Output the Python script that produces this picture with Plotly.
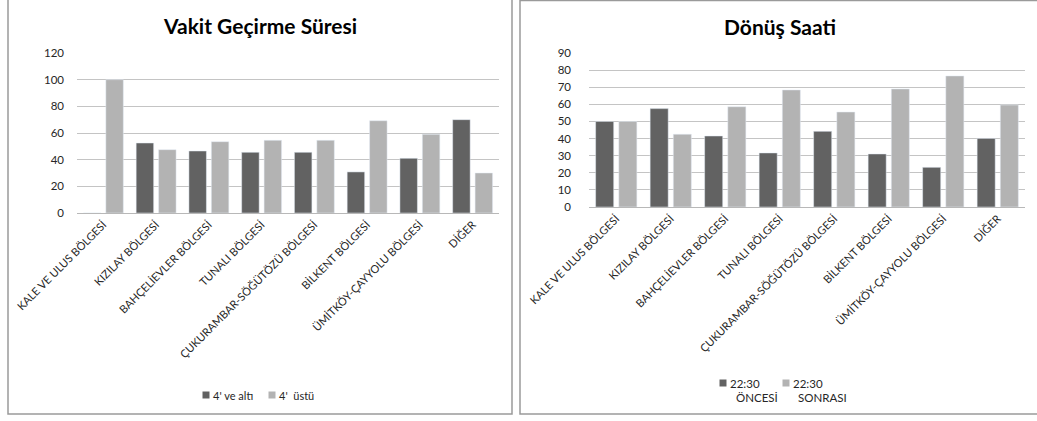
import plotly.graph_objects as go

categories = ["KALE VE ULUS BÖLGESİ", "KIZILAY BÖLGESİ", "BAHÇELİEVLER BÖLGESİ", "TUNALI BÖLGESİ",
              "ÇUKURAMBAR-SÖĞÜTÖZÜ BÖLGESİ", "BİLKENT BÖLGESİ", "ÜMİTKÖY-ÇAYYOLU BÖLGESİ", "DİĞER"]

vakit_alti = [0, 52.5, 46.5, 45.5, 45.5, 30.8, 41, 70]
vakit_ustu = [100, 47.5, 53.5, 54.5, 54.5, 69.2, 59, 30]

donus_oncesi = [50, 57.5, 41.5, 31.6, 44.2, 31, 23.2, 40.1]
donus_sonrasi = [50, 42.5, 58.6, 68.4, 55.5, 69, 76.6, 59.6]

title_left = "Vakit Geçirme Süresi"
title_right = "Dönüş Saati"
legend_left = ["4' ve altı", "4'  üstü"]
legend_right = ["22:30<br>ÖNCESİ", "22:30<br>SONRASI"]

DARK = "#626262"
LIGHT = "#b3b3b3"
FONT = "Lato"
TXT = "#262626"
W, H = 1037, 421

fig = go.Figure()
fig.add_trace(go.Bar(x=categories, y=vakit_alti, name=legend_left[0], marker_color=DARK,
                     xaxis="x", yaxis="y"))
fig.add_trace(go.Bar(x=categories, y=vakit_ustu, name=legend_left[1], marker_color=LIGHT,
                     xaxis="x", yaxis="y"))
fig.add_trace(go.Bar(x=categories, y=donus_oncesi, name=legend_right[0], marker_color=DARK,
                     xaxis="x2", yaxis="y2"))
fig.add_trace(go.Bar(x=categories, y=donus_sonrasi, name=legend_right[1], marker_color=LIGHT,
                     xaxis="x2", yaxis="y2"))

def px(x):
    return x / W

def py(y):
    return 1 - y / H

xcommon = dict(tickangle=-45, tickfont=dict(family=FONT, size=11, color=TXT),
               showgrid=False, showline=True, linecolor="#b8b8b8", ticks="", fixedrange=True,
               automargin=False)
ycommon = dict(tickfont=dict(family=FONT, size=11.5, color=TXT), showgrid=True,
               gridcolor="#c4c4c4", gridwidth=1, zeroline=False, showline=False, ticks="",
               fixedrange=True, automargin=False)

fig.update_layout(
    width=W, height=H,
    margin=dict(l=0, r=0, t=0, b=0, autoexpand=False),
    paper_bgcolor="white", plot_bgcolor="white",
    barmode="group", bargap=0.15, bargroupgap=0.22,
    font=dict(family=FONT, color=TXT),
    xaxis=dict(domain=[px(77), px(499)], anchor="y", **xcommon),
    yaxis=dict(domain=[py(213), py(53)], anchor="x", range=[0, 120], dtick=20,
               ticklabelstandoff=12, **ycommon),
    xaxis2=dict(domain=[px(589), px(1025)], anchor="y2", **xcommon),
    yaxis2=dict(domain=[py(207), py(53)], anchor="x2", range=[0, 90], dtick=10,
                ticklabelstandoff=17, **ycommon),
    showlegend=False,
)

def ann(text, x, y, size, xanchor="center", color=TXT, align="center"):
    fig.add_annotation(text=text, x=px(x), y=py(y), xref="paper", yref="paper", showarrow=False,
                       xanchor=xanchor, yanchor="middle", align=align,
                       font=dict(family=FONT, size=size, color=color))

def swatch(x, y, color):
    fig.add_shape(type="rect", xref="paper", yref="paper", x0=px(x - 3.5), x1=px(x + 3.5),
                  y0=py(y + 3.5), y1=py(y - 3.5), line=dict(width=0), fillcolor=color)

# titles
ann("<b>" + title_left + "</b>", 260, 26, 21, color="#000000")
ann("<b>" + title_right + "</b>", 780, 27, 21, color="#000000")

# legend of left chart
swatch(206, 395, DARK)
ann(legend_left[0], 211, 395, 11, xanchor="left")
swatch(272, 395, LIGHT)
ann(legend_left[1], 277, 395, 11, xanchor="left")

# legend of right chart
swatch(723, 383, DARK)
l0a, l0b = legend_right[0].split("<br>")
ann(l0a, 728, 383, 11.5, xanchor="left")
ann(l0b, 734, 397, 11.5, xanchor="left")
swatch(786, 383, LIGHT)
l1a, l1b = legend_right[1].split("<br>")
ann(l1a, 791, 383, 11.5, xanchor="left")
ann(l1b, 796, 397, 11.5, xanchor="left")

fig.add_shape(type="rect", xref="paper", yref="paper", x0=px(8), x1=px(512), y0=py(414), y1=py(-2),
              line=dict(color="#9a9a9a", width=1.5))
fig.add_shape(type="rect", xref="paper", yref="paper", x0=px(520), x1=px(1042), y0=py(414), y1=py(0.5),
              line=dict(color="#9a9a9a", width=1.5))

fig.write_html("out.html", config={"displayModeBar": False, "staticPlot": True},
               post_script="document.body.style.margin='0';document.body.style.overflow='hidden';")
